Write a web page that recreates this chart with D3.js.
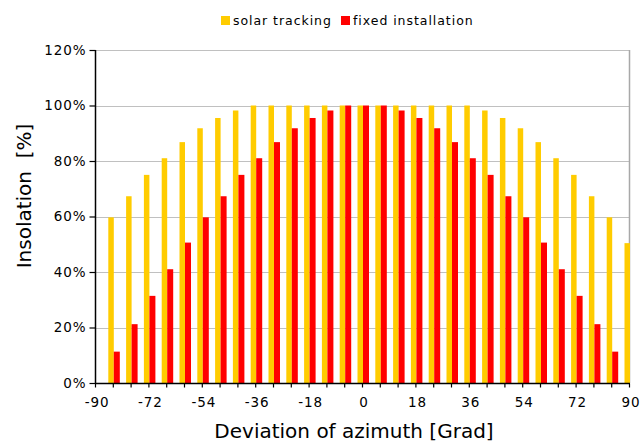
<!DOCTYPE html>
<html>
<head>
<meta charset="utf-8">
<script src="https://cdn.jsdelivr.net/npm/d3@7"></script>
<style>
  html, body { margin: 0; padding: 0; background: #fff; }
  svg { display: block; }
  text { font-family: "DejaVu Sans", Verdana, sans-serif; fill: #000; }
</style>
</head>
<body>
<svg id="chart" width="640" height="444"></svg>
<script>
// ---- data ----
const angles = [-84,-78,-72,-66,-60,-54,-48,-42,-36,-30,-24,-18,-12,-6,0,6,12,18,24,30,36,42,48,54,60,66,72,78,84,90];
const solarTracking = [59.7,67.3,75.0,81.0,86.8,91.8,95.5,98.2,100,100,100,100,100,100,100,100,100,100,100,100,100,98.2,95.5,91.8,86.8,81.0,75.0,67.3,59.7,50.4];
const fixedInstallation = [11.3,21.2,31.4,41.0,50.6,59.7,67.3,75.0,81.0,86.8,91.8,95.5,98.2,100,100,100,98.2,95.5,91.8,86.8,81.0,75.0,67.3,59.7,50.6,41.0,31.4,21.2,11.3,0];
const seriesNames = ["solar tracking", "fixed installation"];
const seriesColors = ["#ffcc00", "#ff0000"];
const xTicks = [-90,-72,-54,-36,-18,0,18,36,54,72,90];
const xMinorTicks = d3.range(-90, 91, 6);
const yTicks = [0,20,40,60,80,100,120];

// ---- layout ----
const svg = d3.select("#chart");
const L = 95, R = 629, T = 50, B = 383;
const x = d3.scaleLinear().domain([-90, 90]).range([L, R]);
const y = d3.scaleLinear().domain([0, 120]).range([B, T]);

// gridlines
svg.append("g").selectAll("line").data(yTicks.filter(d => d > 0)).join("line")
  .attr("x1", L).attr("x2", R)
  .attr("y1", d => Math.round(y(d)) + 0.5).attr("y2", d => Math.round(y(d)) + 0.5)
  .attr("stroke", "#c0c0c0").attr("stroke-width", 1);
// right border
svg.append("line").attr("x1", R + 0.5).attr("x2", R + 0.5).attr("y1", T).attr("y2", B)
  .attr("stroke", "#a8a8a8").attr("stroke-width", 1.5);

// bars
svg.append("clipPath").attr("id", "plotclip").append("rect")
  .attr("x", L).attr("y", T - 1).attr("width", R - L + 2).attr("height", B - T + 1);
const bars = svg.append("g").attr("clip-path", "url(#plotclip)");
const offsets = [[-4.5, 5.5], [1.0, 6.0]];
[solarTracking, fixedInstallation].forEach((vals, si) => {
  bars.append("g").selectAll("rect").data(angles).join("rect")
    .attr("x", (a) => x(a) + offsets[si][0])
    .attr("width", offsets[si][1])
    .attr("y", (a, i) => y(vals[i]))
    .attr("height", (a, i) => B - y(vals[i]))
    .attr("fill", seriesColors[si]);
});

// y axis
const yAxis = d3.axisLeft(y).tickValues(yTicks).tickSize(6).tickPadding(3)
  .tickFormat(d => d + "%");
const gy = svg.append("g").attr("transform", `translate(${L + 0.5},0)`).call(yAxis);
gy.select(".domain").remove();
gy.append("line").attr("x1", 0).attr("x2", 0).attr("y1", T).attr("y2", B + 1)
  .attr("stroke", "#000").attr("stroke-width", 1.5);
gy.selectAll(".tick line").attr("stroke", "#000").attr("stroke-width", 1.2);
gy.selectAll(".tick text").attr("font-size", 13.5).attr("letter-spacing", 0.9)
  .attr("font-family", "DejaVu Sans").attr("fill", "#222").attr("dx", 0);

// x axis
const xAxis = d3.axisBottom(x).tickValues(xMinorTicks).tickSize(4).tickPadding(10)
  .tickFormat(d => xTicks.includes(d) ? d : "");
const gx = svg.append("g").attr("transform", `translate(0,${B + 0.5})`).call(xAxis);
gx.select(".domain").remove();
gx.append("line").attr("x1", L).attr("x2", R + 1).attr("y1", 0).attr("y2", 0)
  .attr("stroke", "#000").attr("stroke-width", 1.5);
gx.selectAll(".tick line").attr("stroke", "#000").attr("stroke-width", 1.2);
gx.selectAll(".tick text").attr("font-size", 13.5).attr("letter-spacing", 0.9)
  .attr("font-family", "DejaVu Sans").attr("fill", "#222").attr("dx", 1.5);

// axis titles
svg.append("text").attr("x", 354).attr("y", 438).attr("text-anchor", "middle")
  .attr("font-size", 20).attr("fill", "#222").text("Deviation of azimuth [Grad]");
svg.append("text").attr("transform", "translate(31,196) rotate(-90)")
  .attr("text-anchor", "middle").attr("font-size", 20).attr("fill", "#222")
  .style("white-space", "pre").text("Insolation  [%]");

// legend
const leg = svg.append("g").attr("transform", "translate(221,14)");
const legItems = [{name: seriesNames[0], color: seriesColors[0], x: 0}, {name: seriesNames[1], color: seriesColors[1], x: 120}];
legItems.forEach(it => {
  leg.append("rect").attr("x", it.x).attr("y", 2).attr("width", 9).attr("height", 9).attr("fill", it.color);
  leg.append("text").attr("x", it.x + 12).attr("y", 11).attr("font-size", 12.5)
    .attr("letter-spacing", 0.95).attr("fill", "#222").text(it.name);
});
</script>
</body>
</html>
